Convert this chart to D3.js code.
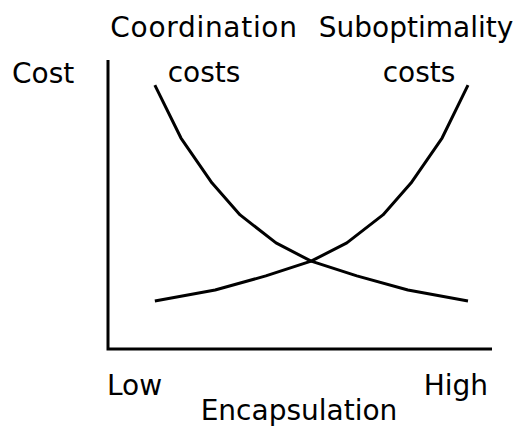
<!DOCTYPE html>
<html>
<head>
<meta charset="utf-8">
<script src="https://cdn.jsdelivr.net/npm/d3@7"></script>
<style>
  html, body { margin: 0; padding: 0; background: #fff; }
  svg { display: block; }
  text { font-family: "DejaVu Sans", sans-serif; font-size: 28px; fill: #000; }
</style>
</head>
<body>
<svg id="chart" width="519" height="427"></svg>
<script>
// Data (arbitrary units: encapsulation 0-100, cost 0-100)
const encapsulationDomain = [0, 100];
const costDomain = [0, 100];

const coordinationX = [12.2, 19.0, 27.1, 34.4, 43.75, 52.9, 64.8, 78.1, 93.75];
const coordinationY = [91.3, 73.0, 57.4, 46.4, 36.7, 30.4, 25.3, 20.4, 16.6];

const suboptimalityX = [12.2, 27.9, 41.1, 52.9, 62.2, 71.6, 78.9, 87.0, 93.75];
const suboptimalityY = [16.6, 20.4, 25.3, 30.4, 36.7, 46.4, 57.4, 73.0, 91.3];

const xAxisLabels = ["Low", "High"];
const xAxisTitle = "Encapsulation";
const yAxisTitle = "Cost";
const seriesLabels = [["Coordination", "costs"], ["Suboptimality", "costs"]];

const svg = d3.select("#chart");

const x = d3.scaleLinear().domain(encapsulationDomain).range([108, 492]);
const y = d3.scaleLinear().domain(costDomain).range([349, 60]);

const line = d3.line().x(d => x(d[0])).y(d => y(d[1]));

// Axes (L shape)
const axisPts = [
  [encapsulationDomain[0], costDomain[1]],
  [encapsulationDomain[0], costDomain[0]],
  [encapsulationDomain[1], costDomain[0]]
];
svg.append("path")
  .attr("d", line(axisPts))
  .attr("fill", "none")
  .attr("stroke", "#000")
  .attr("stroke-width", 3)
  .attr("stroke-linejoin", "miter");

const series = [
  d3.zip(coordinationX, coordinationY),
  d3.zip(suboptimalityX, suboptimalityY)
];

svg.selectAll("path.curve")
  .data(series)
  .join("path")
  .attr("class", "curve")
  .attr("d", line)
  .attr("fill", "none")
  .attr("stroke", "#000")
  .attr("stroke-width", 3)
  .attr("stroke-linejoin", "round");

// Series labels
const labelPos = [[[204, 37], [204, 82]], [[416, 37], [419, 82]]];
seriesLabels.forEach((lines, i) => {
  lines.forEach((t, j) => {
    svg.append("text")
      .attr("x", labelPos[i][j][0])
      .attr("y", labelPos[i][j][1])
      .attr("text-anchor", "middle")
      .style("letter-spacing", (i === 0 && j === 0) ? "0.7px" : null)
      .text(t);
  });
});

// Y axis title
svg.append("text").attr("x", 12).attr("y", 83).text(yAxisTitle);

// X axis labels
svg.append("text").attr("x", 107).attr("y", 395).attr("text-anchor", "start").text(xAxisLabels[0]);
svg.append("text").attr("x", 488).attr("y", 395).attr("text-anchor", "end").text(xAxisLabels[1]);
svg.append("text").attr("x", 299).attr("y", 420).attr("text-anchor", "middle").text(xAxisTitle);
</script>
</body>
</html>
